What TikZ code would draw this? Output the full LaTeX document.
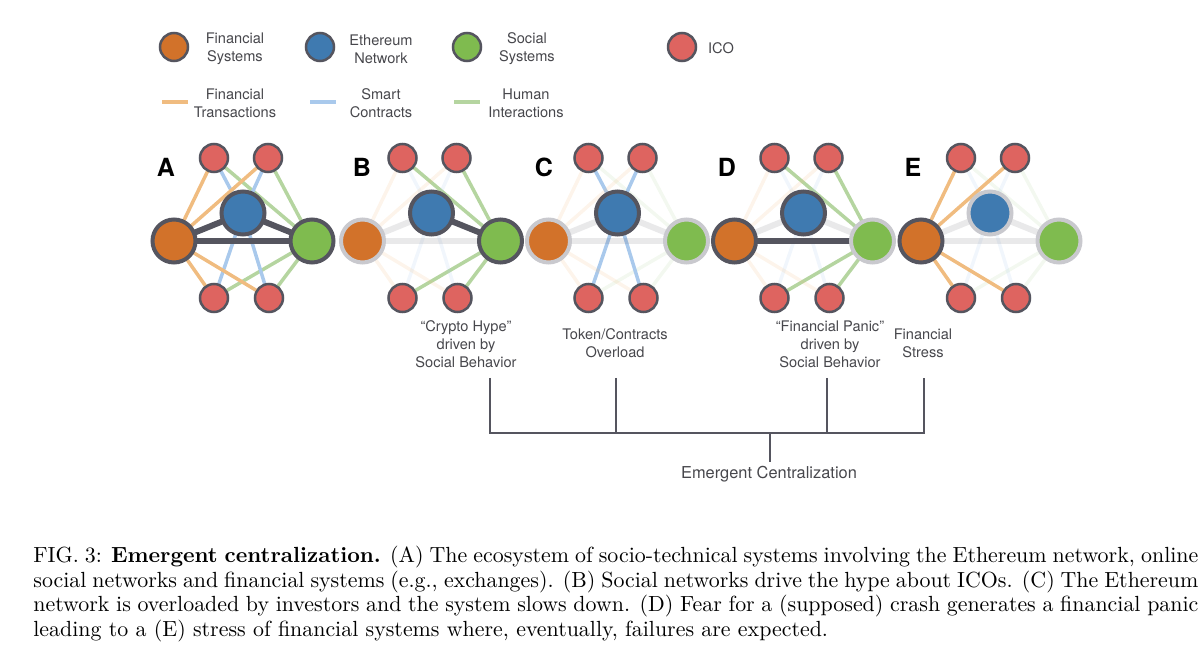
\documentclass[tikz,border=0pt]{standalone}
\usepackage{fontspec}
\setsansfont{TeX Gyre Heros}
\pgfdeclarelayer{links}
\pgfsetlayers{links,main}

\definecolor{finfill}{HTML}{D2722A}
\definecolor{ethfill}{HTML}{3F7AB0}
\definecolor{socfill}{HTML}{7FBB4F}
\definecolor{icofill}{HTML}{DE6460}
\definecolor{ringdark}{HTML}{55555F}
\definecolor{ringpale}{HTML}{C9C9CE}
\definecolor{finline}{HTML}{F0BC80}
\definecolor{ethline}{HTML}{A9C9EC}
\definecolor{socline}{HTML}{B5D5A0}
\definecolor{labelgrey}{HTML}{47474C}

\tikzset{
	hub/.style={circle,minimum size=21.5pt,inner sep=0pt,outer sep=0pt,line width=2pt},
	ico/.style={circle,minimum size=14pt,inner sep=0pt,outer sep=0pt,line width=1.25pt,draw=ringdark,fill=icofill},
	ring/.style={draw=ringdark},
	pale/.style={draw=ringpale},
	lit/.style={},
	dim/.style={opacity=.16},
	dimbar/.style={opacity=.13},
	edge/.style={line width=1.75pt},
	bar/.style={line width=3pt,draw=ringdark},
	label/.style={font=\sffamily\fontsize{7.3}{9}\selectfont,text=labelgrey,align=center,inner sep=0pt},
	bracket/.style={line width=.9pt,draw=ringdark},
}

\begin{document}
\begin{tikzpicture}[x=.5pt,y=-.5pt]
	\useasboundingbox (0,0) rectangle (1200,652);

	%legend
	\node[hub,ring,minimum size=14pt,line width=1.25pt,fill=finfill] (legfin) at (174,47) {};
	\node[hub,ring,minimum size=14pt,line width=1.25pt,fill=ethfill] (legeth) at (320,47) {};
	\node[hub,ring,minimum size=14pt,line width=1.25pt,fill=socfill] (legsoc) at (467,47) {};
	\node[ico] (legico) at (682,47) {};
	\node[label] (txtfin) at (235,49) {Financial\\Systems};
	\node[label] (txteth) at (381,49) {Ethereum\\Network};
	\node[label] (txtsoc) at (527,49) {Social\\Systems};
	\node[label] (txtico) at (721,48) {ICO};
	\node[label] (txttra) at (235,103) {Financial\\Transactions};
	\node[label] (txtsma) at (381,103) {Smart\\Contracts};
	\node[label] (txthum) at (526,103) {Human\\Interactions};
	\draw[edge,finline] (162,102) -- (188,102);
	\draw[edge,ethline] (310,102) -- (336,102);
	\draw[edge,socline] (454,102) -- (480,102);

	%all panels
	\foreach \p/\dx/\lx/\stF/\stE/\stS/\mF/\mE/\mS/\lFE/\lES/\lFS in {
		A/0/166/ring/ring/ring/lit/lit/lit/lit/lit/lit,
		B/188.5/362/pale/ring/ring/dim/dim/lit/dimbar/lit/dimbar,
		C/374.5/544/pale/ring/pale/dim/lit/dim/dimbar/dimbar/dimbar,
		D/560.5/727/ring/ring/pale/dim/dim/lit/dimbar/dimbar/lit,
		E/747/913/ring/pale/pale/lit/dim/dim/dimbar/dimbar/dimbar}{
		\node[font=\sffamily\bfseries\fontsize{12.5}{14}\selectfont,inner sep=0pt] (let\p) at (\lx,167) {\p};
		\node[hub,\stF,fill=finfill] (fin\p) at ({\dx+174},241) {};
		\node[hub,\stE,fill=ethfill] (eth\p) at ({\dx+243},213) {};
		\node[hub,\stS,fill=socfill] (soc\p) at ({\dx+312},241) {};
		\node[ico] (ico\p1) at ({\dx+214},158) {};
		\node[ico] (ico\p2) at ({\dx+268},158) {};
		\node[ico] (ico\p3) at ({\dx+214},298) {};
		\node[ico] (ico\p4) at ({\dx+269},298) {};
		\begin{pgfonlayer}{links}
			%edges to the icos
			\foreach \i in {1,2,3,4}{
				\draw[edge,finline,\mF] (fin\p) -- (ico\p\i);
				\draw[edge,ethline,\mE] (eth\p) -- (ico\p\i);
				\draw[edge,socline,\mS] (soc\p) -- (ico\p\i);
			}
			%edges between the hubs
			\draw[bar,\lFE] (fin\p) -- (eth\p);
			\draw[bar,\lES] (eth\p) -- (soc\p);
			\draw[bar,\lFS] (fin\p) -- (soc\p);
		\end{pgfonlayer}
	}

	%notes under the panels
	\node[label] (hype) at (466,344) {``Crypto Hype''\\driven by\\Social Behavior};
	\node[label] (overload) at (615,343.5) {Token/Contracts\\Overload};
	\node[label] (panic) at (830,344) {``Financial Panic''\\driven by\\Social Behavior};
	\node[label] (stress) at (923,343.5) {Financial\\Stress};
	\node[label,font=\sffamily\fontsize{8.2}{10}\selectfont] (central) at (769,474) {Emergent Centralization};

	%bracket
	\coordinate (tophype) at (490,378);
	\coordinate (topover) at (616,378);
	\coordinate (toppanic) at (827,378);
	\coordinate (topstress) at (924,378);
	\coordinate (lowhype) at (490,433);
	\coordinate (lowover) at (616,433);
	\coordinate (lowmid) at (770,433);
	\coordinate (lowpanic) at (827,433);
	\coordinate (lowstress) at (924,433);
	\coordinate (stem) at (770,462);
	\draw[bracket] (tophype) -- (lowhype) -- (lowstress) -- (topstress);
	\draw[bracket] (topover) -- (lowover);
	\draw[bracket] (toppanic) -- (lowpanic);
	\draw[bracket] (lowmid) -- (stem);

	%caption
	\node[anchor=north west,inner sep=0pt,text width=582.5pt,align=justify,font=\fontsize{10.95}{12.25}\selectfont] (caption) at (33,546) {FIG.~3: \textbf{Emergent centralization.} (A) The ecosystem of socio-technical systems involving the Ethereum network, online\linebreak
	social networks and financial systems (e.g., exchanges). (B) Social networks drive the hype about ICOs. (C) The Ethereum\linebreak
	network is overloaded by investors and the system slows down. (D) Fear for a (supposed) crash generates a financial panic\linebreak
	leading to a (E) stress of financial systems where, eventually, failures are expected.};
\end{tikzpicture}
\end{document}
